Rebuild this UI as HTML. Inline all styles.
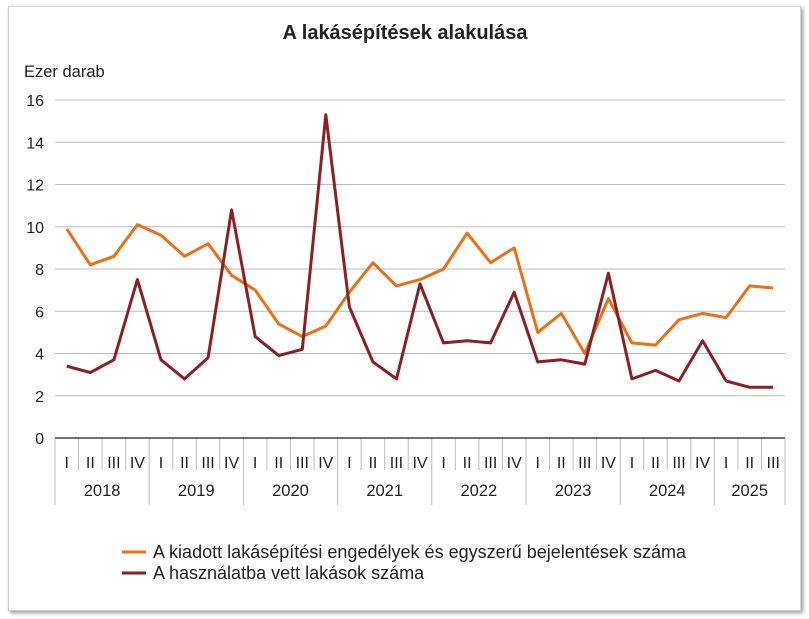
<!DOCTYPE html>
<html><head><meta charset="utf-8"><style>
body{margin:0;background:#fff;width:809px;height:619px;overflow:hidden;font-family:"Liberation Sans",sans-serif}
#f{position:absolute;left:8px;top:6px;width:791px;height:603px;border:1px solid #d0d0d0;box-shadow:2px 2px 4px #999;background:#fff}
svg{position:absolute;left:0;top:0}
text{font-family:"Liberation Sans",sans-serif;fill:#222}
</style></head><body><div id="f"></div>
<svg id="s" width="809" height="619" xmlns="http://www.w3.org/2000/svg"></svg>
<script>
const s=document.getElementById('s');
const X0=55,X1=785,N=31,W=(X1-X0)/N,Y0=438,K=(438-100)/16;
let h='';
h+='<text x="405" y="39" text-anchor="middle" font-size="20" font-weight="bold">A lakásépítések alakulása</text>';
h+='<text x="24" y="77" font-size="16.5">Ezer darab</text>';
for(let v=2;v<=16;v+=2){const y=Y0-v*K;h+=`<line x1="${X0}" x2="${X1}" y1="${y}" y2="${y}" stroke="#bbb" stroke-width="1"/>`;}
for(let v=0;v<=16;v+=2){const y=Y0-v*K;h+=`<text x="44" y="${y+6}" text-anchor="end" font-size="16">${v}</text>`;}
const q=['I','II','III','IV'];
for(let i=0;i<=N;i++){const x=X0+i*W;const yr=i%4==0||i==N;h+=`<line x1="${x}" x2="${x}" y1="${Y0}" y2="${yr?505:470}" stroke="#bbb"/>`;}
for(let i=0;i<N;i++){const x=X0+(i+.5)*W;h+=`<text x="${x}" y="468" text-anchor="middle" font-size="16">${q[i%4]}</text>`;}
for(let y=0;y<8;y++){const a=X0+y*4*W,b=Math.min(X0+(y*4+4)*W,X1);h+=`<text x="${(a+b)/2}" y="496" text-anchor="middle" font-size="16.5">${2018+y}</text>`;}
h+=`<line x1="${X0}" x2="${X1}" y1="${Y0}" y2="${Y0}" stroke="#444" stroke-width="1.5"/>`;
const o=[9.9,8.2,8.6,10.1,9.6,8.6,9.2,7.7,7.0,5.4,4.8,5.3,6.9,8.3,7.2,7.5,8.0,9.7,8.3,9.0,5.0,5.9,4.0,6.6,4.5,4.4,5.6,5.9,5.7,7.2,7.1];
const r=[3.4,3.1,3.7,7.5,3.7,2.8,3.8,10.8,4.8,3.9,4.2,15.3,6.2,3.6,2.8,7.3,4.5,4.6,4.5,6.9,3.6,3.7,3.5,7.8,2.8,3.2,2.7,4.6,2.7,2.4,2.4];
const pl=(d,c)=>`<polyline fill="none" stroke="${c}" stroke-width="3" stroke-linejoin="round" points="${d.map((v,i)=>(X0+(i+.5)*W).toFixed(1)+','+(Y0-v*K).toFixed(1)).join(' ')}"/>`;
h+=pl(o,'#e8711a')+pl(r,'#8b2027');
h+='<line x1="122" x2="146" y1="552" y2="552" stroke="#e8711a" stroke-width="3"/><text x="153" y="558" font-size="18" textLength="533">A kiadott lakásépítési engedélyek és egyszerű bejelentések száma</text>';
h+='<line x1="122" x2="146" y1="573" y2="573" stroke="#8b2027" stroke-width="3"/><text x="153" y="579" font-size="18">A használatba vett lakások száma</text>';
s.innerHTML=h;
</script></body></html>
